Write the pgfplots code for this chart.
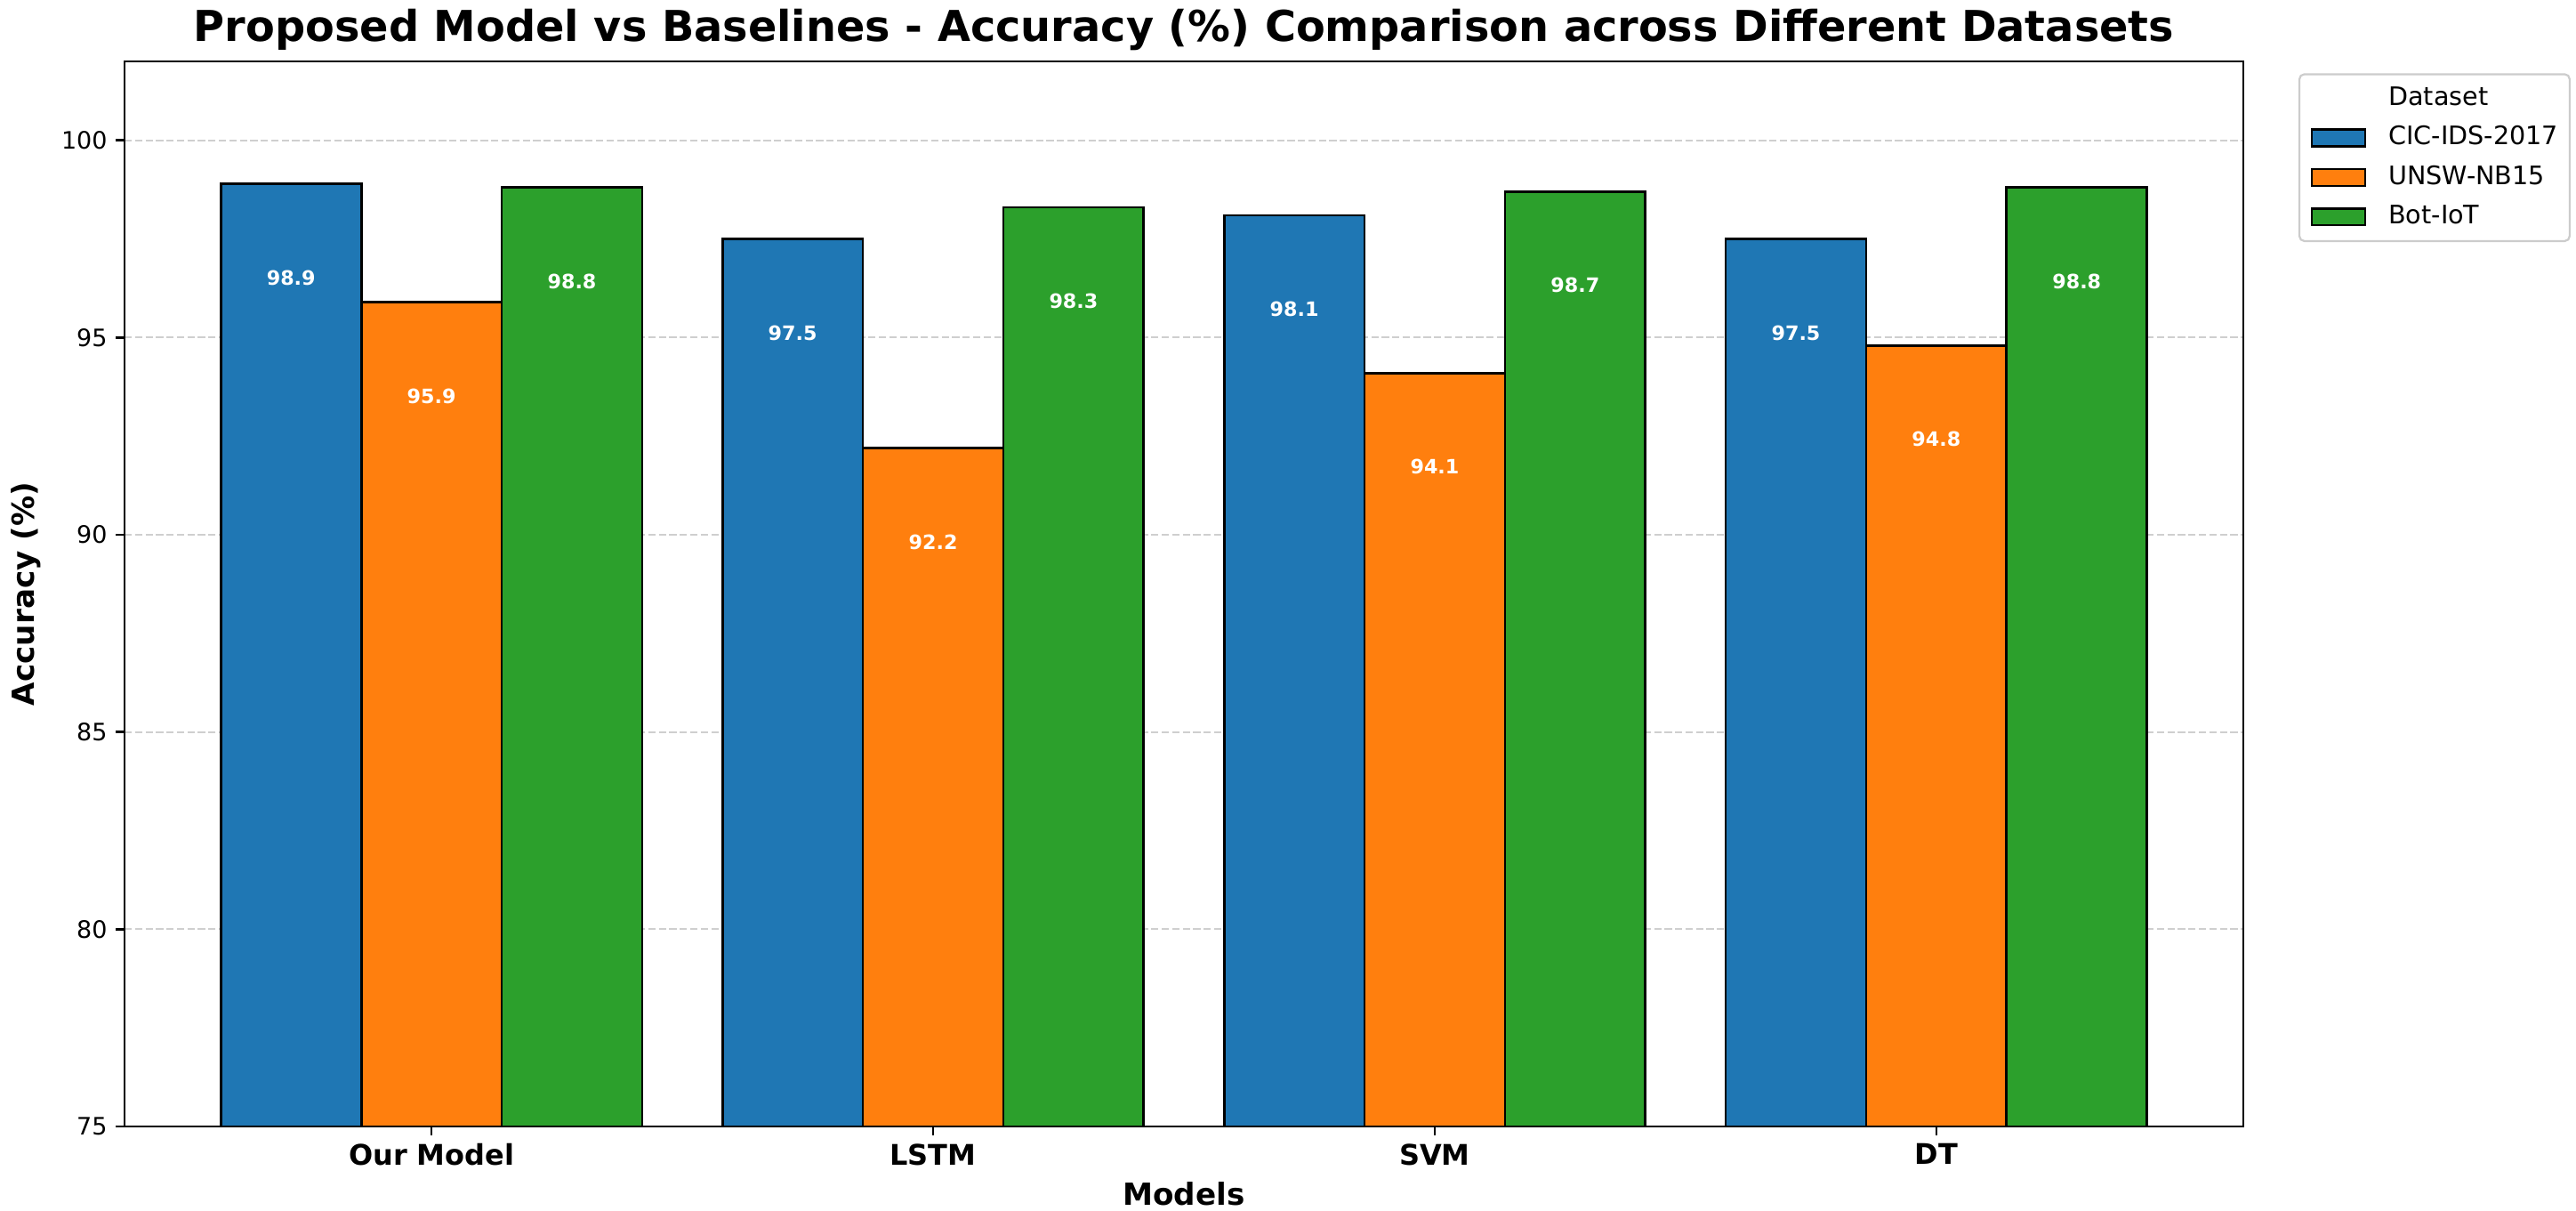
\documentclass[border=0pt]{standalone}
\usepackage{pgfplots}
\pgfplotsset{compat=1.18}
\usepackage{fontspec}
\setmainfont{DejaVu Sans}
\definecolor{cblue}{HTML}{1F77B4}
\definecolor{corange}{HTML}{FF7F0E}
\definecolor{cgreen}{HTML}{2CA02C}
\definecolor{gridc}{HTML}{CFCFCF}
\definecolor{legc}{HTML}{CCCCCC}
\begin{document}
\begin{tikzpicture}
\begin{axis}[
  at={(0,0)}, anchor=south west,
  scale only axis,
  width=857.5pt, height=430.92pt,
  xmin=-0.612, xmax=3.612,
  ymin=75, ymax=102,
  ytick={75,80,85,90,95,100},
  xtick={0,1,2,3},
  xticklabels={Our Model, LSTM, SVM, DT},
  tick align=outside,
  major tick length=3.5pt,
  tick style={black, line width=0.9pt},
  axis line style={line width=1pt},
  xtick pos=bottom, ytick pos=left,
  /pgf/number format/assume math mode=true,
  yticklabel style={font=\fontsize{9.7}{11}\selectfont},
  xticklabel style={font=\fontsize{11.5}{13}\selectfont\bfseries},
  ymajorgrids,
  grid style={gridc, dash pattern=on 2.96pt off 1.28pt, line width=0.8pt},
  title={Proposed Model vs Baselines - Accuracy (\%) Comparison across Different Datasets},
  title style={font=\fontsize{17.2}{20}\selectfont\bfseries, at={(rel axis cs:0.5,1)}, anchor=base, yshift=2.1pt, inner sep=0pt},
  xlabel={Models},
  xlabel style={font=\fontsize{12.3}{14}\selectfont\bfseries, at={(rel axis cs:0.5,0)}, anchor=base, yshift=-31.7pt, inner sep=0pt},
  ylabel={Accuracy (\%)},
  ylabel style={font=\fontsize{12.3}{14}\selectfont\bfseries, at={(rel axis cs:0,0.5)}, anchor=north, yshift=46.1pt, inner sep=0pt},
  ybar=0pt,
  bar width=0.28,
  nodes near coords={\pgfmathprintnumber[fixed,precision=1,fixed zerofill]{\pgfplotspointmeta}},
  every node near coord/.append style={font=\fontsize{8}{9}\selectfont\bfseries, text=white, anchor=center, yshift=-38pt},
  legend image code/.code={\draw[#1, draw=black, line width=0.8pt, sharp corners] (0pt,-3.4pt) rectangle (21.6pt,3.4pt);},
  legend cell align=left,
  legend style={at={(rel axis cs:1,1)}, anchor=north west, xshift=22.3pt, yshift=-4.8pt,
    draw=legc, rounded corners=2pt, line width=0.8pt,
    font=\fontsize{10.3}{12}\selectfont,
    inner xsep=4.7pt, inner ysep=5pt,
    row sep=6.5pt, column sep=9pt,
    nodes={inner sep=0pt, text height=7.5pt, text depth=2pt}},
]
\addlegendimage{empty legend}
\addlegendentry{Dataset}
\addplot[fill=cblue, draw=black, line width=1pt, bar shift=-0.28] coordinates {(0,98.9) (1,97.5) (2,98.1) (3,97.5)};
\addlegendentry{CIC-IDS-2017}
\addplot[fill=corange, draw=black, line width=1pt, bar shift=0] coordinates {(0,95.9) (1,92.2) (2,94.1) (3,94.8)};
\addlegendentry{UNSW-NB15}
\addplot[fill=cgreen, draw=black, line width=1pt, bar shift=0.28] coordinates {(0,98.8) (1,98.3) (2,98.7) (3,98.8)};
\addlegendentry{Bot-IoT}
\end{axis}
\pgfresetboundingbox
\useasboundingbox (-50.4pt,-33.84pt) rectangle (992.14pt,455.76pt);
\end{tikzpicture}
\end{document}
